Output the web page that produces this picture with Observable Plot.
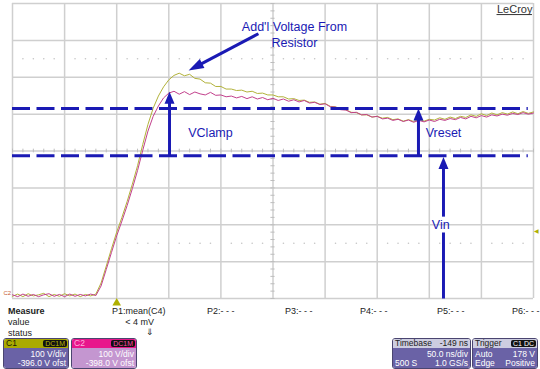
<!DOCTYPE html>
<html><head><meta charset="utf-8">
<script src="https://cdn.jsdelivr.net/npm/d3@7"></script>
<script src="https://cdn.jsdelivr.net/npm/@observablehq/plot@0.6"></script>
<style>
body{margin:0;background:#fff;font-family:"Liberation Sans",Arial,sans-serif;}
#wrap{position:relative;width:540px;height:369px;overflow:hidden;background:#fff;}
#panel{position:absolute;left:0;top:305px;width:540px;height:64px;}
.t{position:absolute;font-size:9px;color:#222;white-space:nowrap;line-height:10px;}
.box{position:absolute;top:33px;height:29px;border-radius:3px;overflow:hidden;border:1px solid #4a4570;font-size:8.5px;}
.hd{height:9px;line-height:9px;position:relative;padding:0 2px;}
.bd{height:20px;position:relative;color:#fff;}
.bd div{position:absolute;line-height:9px;white-space:nowrap;}
.badge{position:absolute;right:1px;top:1px;height:7px;line-height:7px;font-size:7px;padding:0 2px;border-radius:2px;background:#111;}
</style>
</head><body>
<div id="wrap"><div id="chart"></div><div id="panel"></div></div>
<script>
// ---- data ----
const timeNs = [-100,-95,-90,-85,-80,-75,-70,-65,-60,-55,-50,-45,-40,-35,-30,-25,-20,-15,-10,-5,
  0,5,10,15,20,25,30,35,40,45,50,55,60,65,70,75,80,85,90,95,
  100,105,110,115,120,125,130,135,140,145,150,155,160,165,170,175,180,185,190,195,
  200,205,210,215,220,225,230,235,240,245,250,255,260,265,270,275,280,285,290,295,
  300,305,310,315,320,325,330,335,340,345,350,355,360,365,370,375,380,385,390,395,400];
const c1Volts = [2,8,1,9,3,6,10,1,7,2,9,3,8,1,7,3,8,38,84,131,
  176,216,259,306,356,414,468,512,545,570,589,601,607,600,604,593,591,581,580,571,
  571,564,564,560,561,556,558,552,553,548,548,543,543,537,538,533,534,528,529,523,
  525,517,516,509,508,501,500,494,494,488,490,485,487,481,483,477,481,476,482,477,
  482,480,486,482,488,484,490,487,494,490,497,492,499,494,500,496,502,497,503,498,502];
const c2Volts = [6,1,8,2,7,1,6,9,2,7,1,8,2,7,3,8,4,30,75,121,
  166,206,248,294,343,398,450,490,518,540,553,558,550,557,549,556,551,548,555,547,
  548,543,545,540,544,538,543,537,541,535,539,533,537,531,535,529,533,526,528,522,
  524,516,515,508,507,500,501,494,495,488,490,483,485,479,482,476,480,474,479,475,
  480,476,482,479,484,481,487,483,490,486,492,488,494,491,496,493,498,495,500,496,499];

const majorT = [-100,-50,0,50,100,150,200,250,300,350,400];
const majorV = [-4,96,196,296,396,496,596,696,796];
const dashLevels = [511, 383];           // Vreset / Vin reference levels (V)
const clampT = 50.7, resetT = 289.6, vinT = 313.6;
const clampTop = 557, resetTop = 511, vinTop = 380, floorV = -4;
const addlFrom = [136, 714], addlTo = [69, 614];
const triggerLevel = 178;

const panelRows = ["Measure","value","status"];
const paramNames = ["P1:mean(C4)","P2:- - -","P3:- - -","P4:- - -","P5:- - -","P6:- - -"];
const p1Value = "< 4 mV", p1Status = "\u21D3";
const chNames = ["C1","C2"];
const chCoupling = ["DC1M","DC1M"];
const chScale = ["100 V/div","100 V/div"];
const chOffset = ["-396.0 V ofst","-398.0 V ofst"];
const timebase = ["Timebase","-149 ns","50.0 ns/div","500 S","1.0 GS/s"];
const trigger = ["Trigger","C1 DC","Auto","178 V","Edge","Positive"];

// ---- layout ----
const W = 540, H = 305, ML = 12, MR = 7, MT = 3, MB = 7;
const X0 = -100, X1 = 400, Y0 = -4, Y1 = 796;
const BLUE = "#1a1ab4";
const pxT = (W - ML - MR) / (X1 - X0), pxV = (H - MT - MB) / (Y1 - Y0);

const trace = timeNs.map((t, i) => ({t, c1: c1Volts[i], c2: c2Volts[i]}));
const minorT = d3.range(X0, X1 + 1, 10);
const minorV = d3.range(Y0, Y1 + 1, 20);
const dotGrid = [];
for (const v of [146, 646]) for (const t of minorT) if ((t + 100) % 50 !== 0) dotGrid.push({t, v});

const shafts = [
  {x1: clampT, y1: dashLevels[1], x2: clampT, y2: clampTop - 20},
  {x1: resetT, y1: dashLevels[1], x2: resetT, y2: resetTop - 20},
  {x1: vinT, y1: floorV, x2: vinT, y2: 175},
  {x1: vinT, y1: 218, x2: vinT, y2: vinTop - 20},
  {x1: addlFrom[0], y1: addlFrom[1], x2: addlFrom[0] + 0.86 * (addlTo[0] - addlFrom[0]), y2: addlFrom[1] + 0.86 * (addlTo[1] - addlFrom[1])}
];
const addlAngle = Math.atan2((addlTo[0] - addlFrom[0]) * pxT, (addlTo[1] - addlFrom[1]) * pxV) * 180 / Math.PI;
const heads = [
  {x: clampT, y: clampTop, rot: 0, len: 11},
  {x: resetT, y: resetTop, rot: 0, len: 11},
  {x: vinT, y: vinTop, rot: 0, len: 11},
  {x: addlTo[0], y: addlTo[1], rot: addlAngle, len: 14}
];
const labels = [
  {x: 170.6, y: 714, text: "Add'l Voltage From\nResistor"},
  {x: 90, y: 448, text: "VClamp"},
  {x: 313.6, y: 448, text: "Vreset"},
  {x: 311, y: 198, text: "Vin"}
];

const chart = Plot.plot({
  width: W, height: H, marginLeft: ML, marginRight: MR, marginTop: MT, marginBottom: MB,
  x: {domain: [X0, X1], axis: null},
  y: {domain: [Y0, Y1], axis: null},
  style: {fontFamily: "Liberation Sans, Arial, sans-serif", background: "#fff", overflow: "visible"},
  marks: [
    Plot.ruleX(majorT, {stroke: "#cfcfcf", strokeWidth: 1.5}),
    Plot.ruleY(majorV, {stroke: "#cfcfcf", strokeWidth: 1.5}),
    Plot.dot(dotGrid, {x: "t", y: "v", r: 0.8, fill: "#c4c4c4", stroke: null}),
    Plot.ruleY(minorV, {y: d => d, x1: 148, x2: 152, stroke: "#bdbdbd"}),
    Plot.ruleX(minorT, {x: d => d, y1: 391, y2: 401, stroke: "#bdbdbd"}),
    Plot.line(trace, {x: "t", y: "c1", stroke: "#b2b23a", strokeWidth: 1}),
    Plot.line(trace, {x: "t", y: "c2", stroke: "#c2408c", strokeWidth: 1}),
    Plot.ruleY(dashLevels, {x1: X0, x2: 395, stroke: BLUE, strokeWidth: 3, strokeDasharray: "18,6.5"}),
    Plot.link(shafts, {x1: "x1", y1: "y1", x2: "x2", y2: "y2", stroke: BLUE, strokeWidth: 3}),
    Plot.vector(heads, {x: "x", y: "y", rotate: d => d.rot, length: d => d.len, r: 5, shape: "spike", anchor: "end", fill: BLUE, stroke: "none"}),
    Plot.text(labels, {x: "x", y: "y", text: "text", fill: BLUE, fontSize: 12.5, lineHeight: 1.28}),
    Plot.text(["LeCroy"], {x: 399, y: 779, text: d => d, textAnchor: "end", fontSize: 11, fill: "#333"}),
    Plot.ruleY([766], {x1: 365, x2: 399, stroke: "#333", strokeWidth: 1}),
    Plot.dot([0], {x: d => d, y: -16, symbol: "triangle", r: 3.2, fill: "#b0b000", stroke: null}),
    Plot.text([triggerLevel], {x: 403, y: d => d, text: () => "\u25C0", fontSize: 6, fill: "#b0b000"}),
    Plot.text(["C2"], {x: -105, y: 12, text: d => d, fontSize: 6, fill: "#c85a30"})
  ]
});
document.getElementById("chart").appendChild(chart);

// ---- bottom panel ----
const panel = document.getElementById("panel");
let html = "";
panelRows.forEach((s, i) => {
  html += `<div class="t" style="left:8px;top:${1 + i * 11}px;${i === 0 ? "font-weight:bold;" : ""}">${s}</div>`;
});
const pLeft = [112, 207, 285, 360, 437, 512];
paramNames.forEach((s, i) => { html += `<div class="t" style="left:${pLeft[i]}px;top:1px;">${s}</div>`; });
html += `<div class="t" style="left:104px;width:50px;text-align:right;top:12px;">${p1Value.replace("<", "&lt;")}</div>`;
html += `<div class="t" style="left:146px;top:22px;">${p1Status}</div>`;
const chHead = ["#aaaa00", "#e8168c"], chBody = ["#6a62a6", "#c496d0"], chText = ["#1a1a00", "#ffb0dc"], chBadge = ["#b8b800", "#ff4aa8"];
const chLeft = [3, 71], chW = [64, 64];
chNames.forEach((n, i) => {
  html += `<div class="box" style="left:${chLeft[i]}px;width:${chW[i]}px;">
    <div class="hd" style="background:${chHead[i]};color:${chText[i]};">${n}<span class="badge" style="color:${chBadge[i]}">${chCoupling[i]}</span></div>
    <div class="bd" style="background:${chBody[i]};"><div style="right:2px;top:2px;">${chScale[i]}</div><div style="right:2px;top:11px;">${chOffset[i]}</div></div></div>`;
});
html += `<div class="box" style="left:392px;width:77px;">
  <div class="hd" style="background:#cdcde0;color:#222;">${timebase[0]}<span style="position:absolute;right:2px;">${timebase[1]}</span></div>
  <div class="bd" style="background:#6a62a6;"><div style="right:2px;top:2px;">${timebase[2]}</div><div style="left:2px;top:11px;">${timebase[3]}</div><div style="right:2px;top:11px;">${timebase[4]}</div></div></div>`;
html += `<div class="box" style="left:472px;width:64px;">
  <div class="hd" style="background:#cdcde0;color:#222;">${trigger[0]}<span class="badge" style="color:#fff">${trigger[1]}</span></div>
  <div class="bd" style="background:#6a62a6;"><div style="left:2px;top:2px;">${trigger[2]}</div><div style="right:2px;top:2px;">${trigger[3]}</div><div style="left:2px;top:11px;">${trigger[4]}</div><div style="right:2px;top:11px;">${trigger[5]}</div></div></div>`;
panel.innerHTML = html;
</script>
</body></html>
